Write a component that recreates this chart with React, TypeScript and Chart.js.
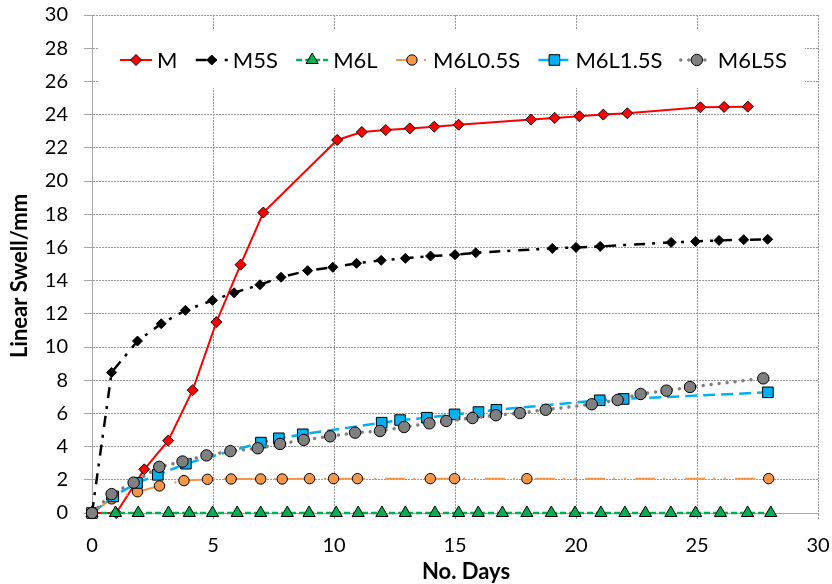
import React, { useEffect, useRef } from 'react';
import { Chart, registerables } from 'chart.js';
import { drawPoint } from 'chart.js/helpers';

Chart.register(...registerables);

// ---------------- data ----------------
const seriesNames = ['M', 'M5S', 'M6L', 'M6L0.5S', 'M6L1.5S', 'M6L5S'];

const mDays = [0, 1, 2.16, 3.15, 4.16, 5.14, 6.14, 7.08, 10.13, 11.15, 12.14, 13.13, 14.14, 15.15, 18.14, 19.12, 20.14, 21.13, 22.12, 25.14, 26.12, 27.1];
const mSwell = [0, 0, 2.63, 4.36, 7.4, 11.5, 14.96, 18.1, 22.47, 22.95, 23.07, 23.17, 23.27, 23.39, 23.7, 23.8, 23.9, 24.0, 24.08, 24.44, 24.46, 24.48];

const m5sDays = [0, 0.81, 1.88, 2.86, 3.86, 4.98, 5.87, 6.94, 7.81, 8.91, 9.95, 10.93, 11.95, 12.95, 13.99, 15.0, 15.86, 19.02, 20.0, 21.0, 23.93, 24.94, 25.91, 26.93, 27.92];
const m5sSwell = [0, 8.47, 10.36, 11.4, 12.21, 12.81, 13.27, 13.75, 14.2, 14.6, 14.8, 15.04, 15.22, 15.34, 15.48, 15.56, 15.68, 15.94, 16.0, 16.06, 16.3, 16.36, 16.42, 16.46, 16.49];

const m6lDays = [0, 0.97, 1.91, 3.16, 4.02, 4.98, 6.0, 6.97, 8.07, 8.97, 10.09, 11.0, 11.98, 12.95, 14.17, 15.15, 15.96, 16.96, 17.97, 18.98, 19.96, 21.03, 22.02, 22.87, 23.92, 24.94, 25.97, 27.09, 28.05];
const m6lSwell = [0, 0, 0, 0, 0, 0, 0, 0, 0, 0, 0, 0, 0, 0, 0, 0, 0, 0, 0, 0, 0, 0, 0, 0, 0, 0, 0, 0, 0];

const m6l05sDays = [0, 0.81, 1.88, 2.79, 3.8, 4.77, 5.75, 6.97, 7.86, 8.99, 9.98, 10.97, 13.98, 14.98, 17.97, 27.96];
const m6l05sSwell = [0, 0.85, 1.28, 1.63, 1.95, 2.03, 2.05, 2.05, 2.05, 2.07, 2.07, 2.07, 2.07, 2.07, 2.07, 2.07];

const m6l15sDays = [0, 0.88, 1.86, 2.72, 3.88, 6.98, 7.72, 8.71, 11.97, 12.73, 13.84, 14.98, 15.97, 16.71, 20.98, 21.97, 27.93];
const m6l15sSwell = [0, 1.0, 1.81, 2.3, 2.97, 4.24, 4.5, 4.74, 5.44, 5.6, 5.74, 5.94, 6.08, 6.22, 6.79, 6.87, 7.27];

const m6l5sDays = [0, 0.81, 1.72, 2.78, 3.74, 4.73, 5.72, 6.85, 7.77, 8.75, 9.84, 10.87, 11.9, 12.9, 13.94, 14.64, 15.72, 16.69, 17.68, 18.75, 20.65, 21.72, 22.67, 23.74, 24.71, 27.74];
const m6l5sSwell = [0, 1.14, 1.83, 2.78, 3.1, 3.47, 3.73, 3.9, 4.16, 4.4, 4.62, 4.84, 4.94, 5.18, 5.4, 5.54, 5.72, 5.89, 6.02, 6.22, 6.55, 6.81, 7.17, 7.37, 7.59, 8.11];

const xMin = 0;
const xMax = 30;
const xStep = 5;
const yMin = 0;
const yMax = 30;
const yStep = 2;
const xAxisTitle = 'No. Days';
const yAxisTitle = 'Linear Swell/mm';

// ---------------- styles ----------------
const FONT = 'Lato, Carlito, "Noto Sans", sans-serif';
const GRID = '#9a9a9a';
const AXIS = '#a6a6a6';

const seriesDays = [mDays, m5sDays, m6lDays, m6l05sDays, m6l15sDays, m6l5sDays];
const seriesSwell = [mSwell, m5sSwell, m6lSwell, m6l05sSwell, m6l15sSwell, m6l5sSwell];

const seriesStyles = [
  { line: '#FF0000', width: 2, dash: [], cap: 'butt', point: 'rectRot', radius: 5.5, fill: '#FF0000' },
  { line: '#000000', width: 2.5, dash: [11, 7, 3, 8], cap: 'butt', point: 'rectRot', radius: 5, fill: '#000000' },
  { line: '#00B050', width: 2.5, dash: [6, 3], cap: 'butt', point: 'triangle', radius: 7, fill: '#00B050' },
  { line: '#F79646', width: 2, dash: [20, 8, 2, 9, 2, 9], cap: 'butt', point: 'circle', radius: 5.2, fill: '#F79646' },
  { line: '#00B0F0', width: 2.5, dash: [12, 6], cap: 'butt', point: 'rect', radius: 7.5, fill: '#00B0F0' },
  { line: '#808080', width: 3.5, dash: [0.01, 8], cap: 'round', point: 'circle', radius: 5.7, fill: '#808080' },
];

const overlayPlugin = {
  id: 'overlay',
  beforeDatasetsDraw(chart: any) {
    const { ctx, chartArea } = chart;
    ctx.save();
    ctx.font = `22px ${FONT}`;
    const widths = seriesNames.map((n) => ctx.measureText(n).width);
    const sampleW = 32;
    const textGap = 5;
    const left = chartArea.left + 28;
    const right = chartArea.right - 31;
    const itemsW = widths.reduce((a, w) => a + sampleW + textGap + w, 0);
    const gap = (right - left - itemsW) / (seriesNames.length - 1);
    const cy = chartArea.top + 45;
    ctx.fillStyle = '#ffffff';
    ctx.fillRect(left - 22, cy - 30, right - left + 40, 58);
    let x = left;
    seriesNames.forEach((name, i) => {
      const st = seriesStyles[i];
      ctx.save();
      ctx.strokeStyle = st.line;
      ctx.lineWidth = st.width;
      ctx.setLineDash(st.dash);
      ctx.lineCap = st.cap;
      ctx.beginPath();
      ctx.moveTo(x, cy);
      ctx.lineTo(x + sampleW, cy);
      ctx.stroke();
      ctx.restore();
      ctx.save();
      ctx.fillStyle = st.fill;
      ctx.strokeStyle = '#000000';
      ctx.lineWidth = 1;
      ctx.setLineDash([]);
      drawPoint(ctx, { pointStyle: st.point, radius: st.radius, borderWidth: 1, rotation: 0 }, x + sampleW / 2, cy);
      ctx.restore();
      ctx.fillStyle = '#000000';
      ctx.textAlign = 'left';
      ctx.textBaseline = 'middle';
      ctx.fillText(name, x + sampleW + textGap, cy + 1);
      x += sampleW + textGap + widths[i] + gap;
    });
    ctx.restore();
  },
  afterDraw(chart: any) {
    const { ctx, chartArea } = chart;
    ctx.save();
    ctx.font = `bold 22px ${FONT}`;
    ctx.fillStyle = '#000000';
    ctx.textAlign = 'center';
    ctx.textBaseline = 'middle';
    ctx.fillText(xAxisTitle, (chartArea.left + chartArea.right) / 2 + 11, chartArea.bottom + 59);
    ctx.translate(20, (chartArea.top + chartArea.bottom) / 2 + 12);
    ctx.rotate(-Math.PI / 2);
    ctx.fillText(yAxisTitle, 0, 0);
    ctx.restore();
  },
};

export default function App() {
  const canvasRef = useRef<HTMLCanvasElement | null>(null);

  useEffect(() => {
    const canvas = canvasRef.current;
    if (!canvas) return;
    const datasets = seriesNames.map((name, i) => {
      const st = seriesStyles[i];
      return {
        label: name,
        data: seriesDays[i].map((d, j) => ({ x: d, y: seriesSwell[i][j] })),
        borderColor: st.line,
        borderWidth: st.width,
        borderDash: st.dash,
        borderCapStyle: st.cap,
        pointStyle: st.point,
        pointRadius: st.radius,
        pointHoverRadius: st.radius,
        pointBackgroundColor: st.fill,
        pointBorderColor: '#000000',
        pointBorderWidth: 1,
        tension: 0,
        fill: false,
        clip: false,
        order: seriesNames.length - i,
      };
    });

    const chart = new Chart(canvas, {
      type: 'line',
      data: { datasets } as any,
      options: {
        animation: false,
        responsive: false,
        devicePixelRatio: 1,
        layout: { padding: { top: 15, right: 14, left: 0, bottom: 0 } },
        plugins: {
          legend: { display: false },
          tooltip: { enabled: false },
          title: { display: false },
        },
        scales: {
          x: {
            type: 'linear',
            min: xMin,
            max: xMax,
            ticks: { stepSize: xStep, color: '#000000', font: { family: FONT, size: 20 }, padding: 14, maxRotation: 0 },
            grid: { color: GRID, lineWidth: 1, tickLength: 7, tickColor: GRID, tickBorderDash: [2, 1] },
            border: { display: true, color: AXIS, width: 1, dash: [2, 1] },
            afterFit: (s: any) => { s.height = 71; s.paddingLeft = 0; s.paddingRight = 0; },
          },
          y: {
            type: 'linear',
            min: yMin,
            max: yMax,
            ticks: { stepSize: yStep, color: '#000000', font: { family: FONT, size: 20 }, padding: 16 },
            grid: { color: GRID, lineWidth: 1, tickLength: 8, tickColor: AXIS, tickBorderDash: [] },
            border: { display: true, color: AXIS, width: 1, dash: [2, 1] },
            afterFit: (s: any) => { s.width = 92; s.paddingTop = 0; s.paddingBottom = 0; },
          },
        },
      } as any,
      plugins: [overlayPlugin],
    });
    return () => chart.destroy();
  }, []);

  return (
    <div style={{ position: 'absolute', left: 0, top: 0, width: 832, height: 584, background: '#ffffff' }}>
      <canvas ref={canvasRef} width={832} height={584} style={{ display: 'block' }} />
    </div>
  );
}
